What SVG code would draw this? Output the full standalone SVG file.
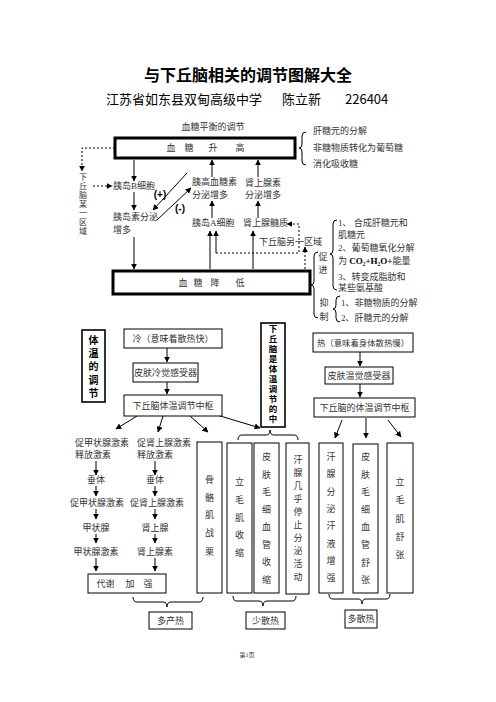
<svg xmlns="http://www.w3.org/2000/svg" width="496" height="702" viewBox="0 0 496 702">
<defs>
<style>
.t{font-family:"Liberation Serif","Noto Sans CJK SC",serif;font-size:9px;fill:#333}
.m{text-anchor:middle}
.v{writing-mode:vertical-rl;text-anchor:start}
.bd{font-family:"Noto Sans CJK SC",sans-serif;font-weight:bold;font-size:10px;fill:#000}
.bx{fill:#fff;stroke:#000;stroke-width:1}
.bk{fill:#fff;stroke:#000;stroke-width:3}
.b2{fill:#fff;stroke:#000;stroke-width:1.6}
.c{fill:none;stroke:#000;stroke-width:1}
.d{stroke-dasharray:2,2}
.a{marker-end:url(#ah)}
</style>
<marker id="ah" viewBox="0 0 10 10" refX="9" refY="5" markerWidth="6" markerHeight="6" markerUnits="userSpaceOnUse" orient="auto">
<path d="M0,0 L10,5 L0,10 z" fill="#000"/>
</marker>
</defs>
<rect width="496" height="702" fill="#fff"/>

<g id="title">
<text x="248" y="81" text-anchor="middle" style="font-family:'Noto Sans CJK SC',sans-serif;font-weight:bold;font-size:16px;fill:#000">与下丘脑相关的调节图解大全</text>
<text y="104" style="font-family:'Noto Sans CJK SC',sans-serif;font-size:13px;fill:#000"><tspan x="106">江苏省如东县双甸高级中学</tspan><tspan x="282">陈立新</tspan><tspan x="345">226404</tspan></text>
</g>

<g id="connectors">
<path class="c d a" d="M115,148 L82,148 L82,171"/>
<path class="c d a" d="M93,186 L112,186"/>
<path class="c a" d="M134,160 L134,181"/>
<path class="c a" d="M134,192 L134,210"/>
<path class="c a" d="M134,237 L134,269"/>
<path class="c a" d="M187,173 L153,210"/>
<path class="c a" d="M157,220 L191,188"/>
<path class="c a" d="M212,177 L212,160"/>
<path class="c a" d="M212,218 L212,201"/>
<path class="c a" d="M258,177 L258,160"/>
<path class="c a" d="M258,218 L258,201"/>
<path class="c a" d="M210,269 L210,231"/>
<path class="c a" d="M216,253 L216,231"/>
<path class="c a" d="M253,269 L253,231"/>
<path class="c d a" d="M216,253 L299,253 L299,224 L287,224"/>
<path class="c d a" d="M305,269 L305,247"/>
<path class="c" d="M306,132 Q302,132 302,136 L302,144 Q302,148 299,148 Q302,148 302,152 L302,161 Q302,165 306,165"/>
<path class="c" d="M318,252 Q314,252 314,256 L314,281 Q314,285 311,285 Q314,285 314,289 L314,314 Q314,318 318,318"/>
<path class="c" d="M337,220 Q333,220 333,224 L333,250 Q333,254 330,254 Q333,254 333,258 L333,286 Q333,290 337,290"/>
<path class="c" d="M340,296 Q336,296 336,300 L336,305 Q336,309 333,309 Q336,309 336,313 L336,318 Q336,322 340,322"/>
<path class="c a" d="M167,348 L167,362"/>
<path class="c a" d="M167,382 L167,394"/>
<path class="c a" d="M137,416 L116,429"/>
<path class="c a" d="M163,416 L158,432"/>
<path class="c a" d="M190,416 L208,432"/>
<path class="c a" d="M217,415 L260,428"/>
<path class="c" d="M238,440 Q238,435 242,435 L266,435 Q270,435 270,430 Q270,435 274,435 L294,435 Q298,435 298,440"/>
<path class="c a" d="M96,461 L96,475"/>
<path class="c a" d="M96,486 L96,496"/>
<path class="c a" d="M96,509 L96,519"/>
<path class="c a" d="M96,534 L96,543"/>
<path class="c a" d="M96,558 L96,571"/>
<path class="c a" d="M155,461 L155,475"/>
<path class="c a" d="M155,486 L155,496"/>
<path class="c a" d="M155,509 L155,519"/>
<path class="c a" d="M155,534 L155,543"/>
<path class="c a" d="M155,558 L155,571"/>
<path class="c" d="M133,597 Q133,602 137,602 L163,602 Q167,602 167,607 Q167,602 171,602 L199,602 Q203,602 203,597"/>
<path class="c" d="M233,596 Q233,601 237,601 L259,601 Q263,601 263,606 Q263,601 267,601 L292,601 Q296,601 296,596"/>
<path class="c a" d="M360,352 L360,366"/>
<path class="c a" d="M360,384 L360,397"/>
<path class="c a" d="M342,420 L335,438"/>
<path class="c a" d="M366,418 L366,438"/>
<path class="c a" d="M388,420 L401,437"/>
<path class="c" d="M329,594 Q329,599 333,599 L358,599 Q362,599 362,604 Q362,599 366,599 L386,599 Q390,599 390,594"/>
</g>

<g id="glucose-title"><text class="t m" x="213" y="130">血糖平衡的调节</text></g>
<g id="bs-high">
<rect class="bk" x="115" y="138" width="180" height="20"/>
<text class="t m" y="151"><tspan x="171">血</tspan><tspan x="189">糖</tspan><tspan x="213">升</tspan><tspan x="240">高</tspan></text>
</g>
<g id="high-sources">
<text class="t" x="313" y="134">肝糖元的分解</text>
<text class="t" x="313" y="151">非糖物质转化为葡萄糖</text>
<text class="t" x="313" y="167">消化吸收糖</text>
</g>
<g id="hypo-a">
<text class="t v" x="82" y="173" style="font-size:8px;letter-spacing:1px">下丘脑某一区域</text>
</g>
<g id="b-cell"><text class="t" x="113" y="189">胰岛B细胞</text></g>
<g id="insulin"><text class="t" x="113" y="220">胰岛素分泌</text><text class="t" x="113" y="233">增多</text></g>
<g id="signs">
<text x="160" y="198" text-anchor="middle" style="font-family:'Liberation Sans',sans-serif;font-weight:bold;font-size:10px;fill:#000">(+)</text>
<text x="180" y="212" text-anchor="middle" style="font-family:'Liberation Sans',sans-serif;font-weight:bold;font-size:10px;fill:#000">(-)</text>
</g>
<g id="glucagon"><text class="t" x="192" y="185">胰高血糖素</text><text class="t" x="192" y="198">分泌增多</text></g>
<g id="a-cell"><text class="t" x="192" y="226">胰岛A细胞</text></g>
<g id="adrenaline"><text class="t" x="245" y="186">肾上腺素</text><text class="t" x="245" y="198">分泌增多</text></g>
<g id="medulla"><text class="t" x="243" y="226">肾上腺髓质</text></g>
<g id="hypo-b"><text class="t" x="259" y="245">下丘脑另一区域</text></g>
<g id="bs-low">
<rect class="bk" x="113" y="271" width="197" height="23"/>
<text class="t m" y="286"><tspan x="183">血</tspan><tspan x="198">糖</tspan><tspan x="215">降</tspan><tspan x="240">低</tspan></text>
</g>
<g id="promote">
<text class="t m"><tspan x="323" y="260">促</tspan><tspan x="323" y="273">进</tspan></text>
<text class="t" x="338" y="226">1、 合成肝糖元和</text>
<text class="t" x="338" y="238">肌糖元</text>
<text class="t" x="338" y="251">2、葡萄糖氧化分解</text>
<text class="t" x="338" y="264">为 <tspan style="font-weight:bold;fill:#000">CO₂+H₂O+</tspan>能量</text>
<text class="t" x="338" y="280">3、转变成脂肪和</text>
<text class="t" x="338" y="291">某些氨基酸</text>
</g>
<g id="inhibit">
<text class="t m"><tspan x="324" y="306">抑</tspan><tspan x="324" y="320">制</tspan></text>
<text class="t" x="341" y="306">1、非糖物质的分解</text>
<text class="t" x="341" y="321">2、肝糖元的分解</text>
</g>

<g id="temp-title">
<rect class="b2" x="82" y="330" width="23" height="72"/>
<text class="bd v" x="93.5" y="335" style="letter-spacing:3.3px">体温的调节</text>
</g>
<g id="cold"><rect class="bx" x="124" y="329" width="98" height="19"/><text class="t m" x="173" y="342">冷（意味着散热快）</text></g>
<g id="cold-receptor"><rect class="bx" x="133" y="363" width="65" height="19"/><text class="t m" x="165.5" y="376">皮肤冷觉感受器</text></g>
<g id="center-cold"><rect class="bx" x="124" y="395" width="98" height="21"/><text class="t m" x="173" y="409">下丘脑体温调节中枢</text></g>
<g id="hypo-center">
<rect class="b2" x="261" y="323" width="24" height="104"/>
<text class="bd v" x="273" y="325" style="font-size:8.5px;letter-spacing:1.5px">下丘脑是体温调节的中</text>
</g>
<g id="hot"><rect class="bx" x="313" y="333" width="100" height="19"/><text class="t m" x="363" y="346" style="font-size:8.4px">热（意味着身体散热慢）</text></g>
<g id="warm-receptor"><rect class="bx" x="325" y="367" width="68" height="17"/><text class="t m" x="359" y="379">皮肤温觉感受器</text></g>
<g id="center-hot"><rect class="bx" x="314" y="398" width="101" height="19"/><text class="t m" x="364.5" y="411">下丘脑的体温调节中枢</text></g>

<g id="thyroid-chain">
<text class="t" x="75" y="446">促甲状腺激素</text>
<text class="t" x="75" y="458">释放激素</text>
<text class="t m" x="96" y="483">垂体</text>
<text class="t m" x="97" y="506">促甲状腺激素</text>
<text class="t m" x="96" y="531">甲状腺</text>
<text class="t m" x="96" y="555">甲状腺激素</text>
</g>
<g id="adrenal-chain">
<text class="t" x="137" y="446">促肾上腺激素</text>
<text class="t" x="137" y="458">释放激素</text>
<text class="t m" x="155" y="483">垂体</text>
<text class="t m" x="157" y="506">促肾上腺激素</text>
<text class="t m" x="155" y="531">肾上腺</text>
<text class="t m" x="155" y="555">肾上腺素</text>
</g>
<g id="metabolism"><rect class="bx" x="88" y="574" width="78" height="19"/><text class="t m" y="587"><tspan x="101">代</tspan><tspan x="110">谢</tspan><tspan x="130">加</tspan><tspan x="148">强</tspan></text></g>
<g id="shiver">
<rect class="bx" x="197" y="442" width="25" height="151"/>
<text class="t m"><tspan x="209.5" y="483">骨</tspan><tspan x="209.5" y="501">骼</tspan><tspan x="209.5" y="518">肌</tspan><tspan x="209.5" y="536">战</tspan><tspan x="209.5" y="555">栗</tspan></text>
</g>
<g id="more-heat"><rect class="bx" x="149" y="612" width="43" height="17"/><text class="t m" x="170.5" y="624">多产热</text></g>

<g id="erector-contract">
<rect class="bx" x="227" y="443" width="25" height="150"/>
<text class="t m"><tspan x="239.5" y="485">立</tspan><tspan x="239.5" y="503">毛</tspan><tspan x="239.5" y="521">肌</tspan><tspan x="239.5" y="538">收</tspan><tspan x="239.5" y="556">缩</tspan></text>
</g>
<g id="vessel-contract">
<rect class="bx" x="254" y="443" width="25" height="150"/>
<text class="t m"><tspan x="266.5" y="460">皮</tspan><tspan x="266.5" y="477.5">肤</tspan><tspan x="266.5" y="495">毛</tspan><tspan x="266.5" y="512.5">细</tspan><tspan x="266.5" y="530">血</tspan><tspan x="266.5" y="547.5">管</tspan><tspan x="266.5" y="565">收</tspan><tspan x="266.5" y="582.5">缩</tspan></text>
</g>
<g id="sweat-stop">
<rect class="bx" x="286" y="443" width="23" height="151"/>
<text class="t v" x="297.5" y="455.5" style="letter-spacing:4px">汗腺几乎停止分泌活动</text>
</g>
<g id="less-loss"><rect class="bx" x="246" y="612" width="39" height="17"/><text class="t m" x="265.5" y="624">少散热</text></g>

<g id="sweat-more">
<rect class="bx" x="319" y="443" width="24" height="150"/>
<text class="t m"><tspan x="331" y="460">汗</tspan><tspan x="331" y="477.3">腺</tspan><tspan x="331" y="494.6">分</tspan><tspan x="331" y="511.9">泌</tspan><tspan x="331" y="529.2">汗</tspan><tspan x="331" y="546.5">液</tspan><tspan x="331" y="563.8">增</tspan><tspan x="331" y="581.1">强</tspan></text>
</g>
<g id="vessel-dilate">
<rect class="bx" x="353" y="444" width="25" height="149"/>
<text class="t m"><tspan x="365.5" y="460">皮</tspan><tspan x="365.5" y="477.6">肤</tspan><tspan x="365.5" y="495.2">毛</tspan><tspan x="365.5" y="512.8">细</tspan><tspan x="365.5" y="530.4">血</tspan><tspan x="365.5" y="548">管</tspan><tspan x="365.5" y="565.6">舒</tspan><tspan x="365.5" y="583.2">张</tspan></text>
</g>
<g id="erector-relax">
<rect class="bx" x="387" y="443" width="26" height="150"/>
<text class="t m"><tspan x="400" y="485">立</tspan><tspan x="400" y="503">毛</tspan><tspan x="400" y="522">肌</tspan><tspan x="400" y="540">舒</tspan><tspan x="400" y="558">张</tspan></text>
</g>
<g id="more-loss"><rect class="bx" x="345" y="610" width="32" height="18"/><text class="t m" x="361" y="622">多散热</text></g>

<g id="footer"><text class="t m" x="247" y="657" style="font-size:6px">第1页</text></g>
</svg>
